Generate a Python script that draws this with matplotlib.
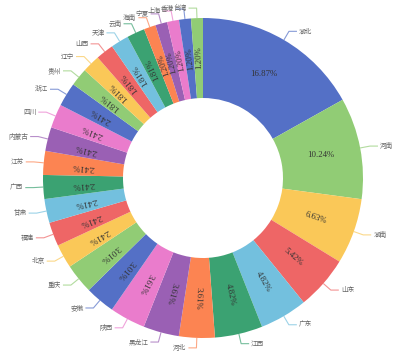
import matplotlib
matplotlib.use('Agg')
import matplotlib.pyplot as plt
import numpy as np

# province share of items (%), clockwise from 12 o'clock
provinces = ['湖北', '河南', '湖南', '山东', '广东', '江西', '河北', '黑龙江', '陕西',
             '安徽', '重庆', '北京', '福建', '甘肃', '广西', '江苏', '内蒙古', '四川',
             '浙江', '贵州', '辽宁', '山西', '天津', '云南', '海南', '宁夏', '上海',
             '香港', '台湾']
shares = [16.87, 10.24, 6.63, 5.42, 4.82, 4.82, 3.61, 3.61, 3.61,
          3.01, 3.01, 2.41, 2.41, 2.41, 2.41, 2.41, 2.41, 2.41,
          2.41, 1.81, 1.81, 1.81, 1.81, 1.81, 1.20, 1.20, 1.20,
          1.20, 1.20]

palette = ['#5470c6', '#91cc75', '#fac858', '#ee6666', '#73c0de',
           '#3ba272', '#fc8452', '#9a60b4', '#ea7ccc']
colors = [palette[i % len(palette)] for i in range(len(shares))]

W, H = 401, 357
cx, cy = 203, 179
R, ring = 160, 80

fig = plt.figure(figsize=(W / 100, H / 100), dpi=100)
ax = fig.add_axes([0, 0, 1, 1])

wedges, _ = ax.pie(shares, colors=colors, radius=R, center=(cx, cy),
                   startangle=90, counterclock=False,
                   wedgeprops=dict(width=ring, linewidth=0))

for w, name, val, col in zip(wedges, provinces, shares, colors):
    theta = np.deg2rad((w.theta1 + w.theta2) / 2)
    ang = np.rad2deg(theta)
    c, s = np.cos(theta), np.sin(theta)

    # percentage inside the ring
    rmid = R - ring / 2
    rot = 0 if val >= 10 else ang
    ax.text(cx + rmid * c, cy + rmid * s, '%.2f%%' % val,
            rotation=rot, rotation_mode='anchor', ha='center', va='center',
            fontsize=6.3, color='#333333', family='Liberation Serif')

    # leader line + name outside
    p0 = (cx + R * c, cy + R * s)
    p1 = (cx + (R + 10) * c, cy + (R + 10) * s)
    side = 1 if c >= 0 else -1
    p2 = (p1[0] + 8 * side, p1[1])
    ax.plot([p0[0], p1[0], p2[0]], [p0[1], p1[1], p2[1]],
            color=col, lw=0.8, alpha=0.7, solid_capstyle='butt')
    ax.text(p2[0] + 2 * side, p2[1], name,
            ha='left' if side > 0 else 'right', va='center',
            fontsize=4.8, color='#666666',
            family=['Noto Sans CJK SC', 'DejaVu Sans'])

ax.set_xlim(0, W)
ax.set_ylim(0, H)
ax.set_aspect('equal')
ax.axis('off')

fig.savefig('out.png', dpi=100, facecolor='white')
